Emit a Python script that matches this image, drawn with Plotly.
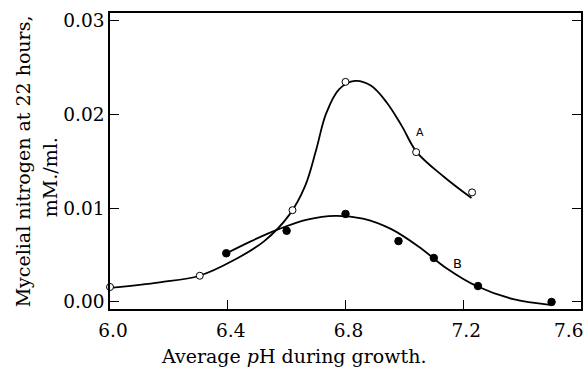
import plotly.graph_objects as go

# Measured points, series A (open circles)
ph_a = [6.00, 6.305, 6.62, 6.80, 7.04, 7.23]
n_a = [0.0016, 0.0028, 0.0098, 0.0235, 0.0160, 0.0117]

# Measured points, series B (filled circles)
ph_b = [6.395, 6.60, 6.80, 6.98, 7.10, 7.25, 7.50]
n_b = [0.0052, 0.0076, 0.0094, 0.0065, 0.0047, 0.0017, 0.0000]

# Hand-fitted smooth curves through each series (spline knots)
curve_a_x = [6.000, 6.169, 6.304, 6.423, 6.524, 6.609, 6.663, 6.700, 6.734, 6.778, 6.832,
             6.886, 6.940, 6.991, 7.042, 7.133, 7.228]
curve_a_y = [0.0015, 0.0021, 0.0028, 0.0045, 0.0065, 0.0093, 0.0124, 0.0162, 0.0201, 0.0227,
             0.0236, 0.0231, 0.0213, 0.0188, 0.0160, 0.0134, 0.0111]
curve_b_x = [6.396, 6.480, 6.575, 6.670, 6.765, 6.859, 6.954, 7.049, 7.143, 7.245, 7.370, 7.495]
curve_b_y = [0.0052, 0.0065, 0.0078, 0.0088, 0.0092, 0.0089, 0.0078, 0.0059, 0.0036, 0.0017,
             0.0003, -0.0003]

x_ticks = [6.0, 6.4, 6.8, 7.2, 7.6]
x_labels = ["6.0", "6.4", "6.8", "7.2", "7.6"]
y_ticks = [0.00, 0.01, 0.02, 0.03]
y_labels = ["0.00", "0.01", "0.02", "0.03"]

SERIF = "DejaVu Serif"
X_RANGE = [6.0, 7.6]
Y_RANGE = [-0.00075, 0.03085]

fig = go.Figure()
for cx, cy in ((curve_a_x, curve_a_y), (curve_b_x, curve_b_y)):
    fig.add_trace(go.Scatter(x=cx, y=cy, mode="lines",
                             line=dict(color="black", width=1.8, shape="spline", smoothing=1.0),
                             hoverinfo="skip", showlegend=False))
fig.add_trace(go.Scatter(x=ph_a, y=n_a, mode="markers", name="A",
                         marker=dict(symbol="circle", size=7, color="white",
                                     line=dict(color="black", width=1)),
                         cliponaxis=False, showlegend=False))
fig.add_trace(go.Scatter(x=ph_b, y=n_b, mode="markers", name="B",
                         marker=dict(symbol="circle", size=7.5, color="black",
                                     line=dict(color="black", width=1)),
                         cliponaxis=False, showlegend=False))

fig.add_annotation(x=7.054, y=0.0181, text="A", showarrow=False,
                   font=dict(family="DejaVu Sans", size=11, color="black"))
fig.add_annotation(x=7.18, y=0.0041, text="B", showarrow=False,
                   font=dict(family="DejaVu Sans", size=13, color="black"))

# Last x tick label sits against the page edge, so it is right-aligned there
fig.add_annotation(xref="paper", yref="paper", x=(587 - 110) / 473, y=(309 - 330) / 296,
                   text=x_labels[-1], showarrow=False, xanchor="right", yanchor="middle",
                   font=dict(family=SERIF, size=18.5, color="black"))

# Axis titles
fig.add_annotation(xref="paper", yref="paper", x=(294 - 110) / 473, y=(309 - 356) / 296,
                   text="Average <i>p</i>H during growth.", showarrow=False,
                   xanchor="center", yanchor="middle",
                   font=dict(family=SERIF, size=19, color="black"))
fig.add_annotation(xref="paper", yref="paper", x=(23 - 110) / 473, y=(309 - 161) / 296,
                   text="Mycelial nitrogen at 22 hours,", showarrow=False, textangle=-90,
                   xanchor="center", yanchor="middle",
                   font=dict(family=SERIF, size=19, color="black"))
fig.add_annotation(xref="paper", yref="paper", x=(50 - 110) / 473, y=(309 - 177) / 296,
                   text="mM./ml.", showarrow=False, textangle=-90,
                   xanchor="center", yanchor="middle",
                   font=dict(family=SERIF, size=19, color="black"))

axis_common = dict(showgrid=False, zeroline=False, showline=True, linecolor="black",
                   linewidth=1.6, ticks="inside", ticklen=9, tickwidth=1.2,
                   tickcolor="black", tickfont=dict(family=SERIF, size=18.5, color="black"))

fig.update_xaxes(range=X_RANGE, tickvals=x_ticks,
                 ticktext=x_labels[:-1] + [""], ticklabelshift=3, ticklabelstandoff=4,
                 mirror=True, **axis_common)
fig.update_yaxes(range=Y_RANGE, tickvals=y_ticks, ticktext=y_labels,
                 mirror="ticks", **axis_common)

fig.update_layout(width=586, height=369,
                  margin=dict(l=110, r=3, t=13, b=60),
                  paper_bgcolor="white", plot_bgcolor="white",
                  font=dict(family=SERIF, color="black"))

fig.write_html("out.html")
